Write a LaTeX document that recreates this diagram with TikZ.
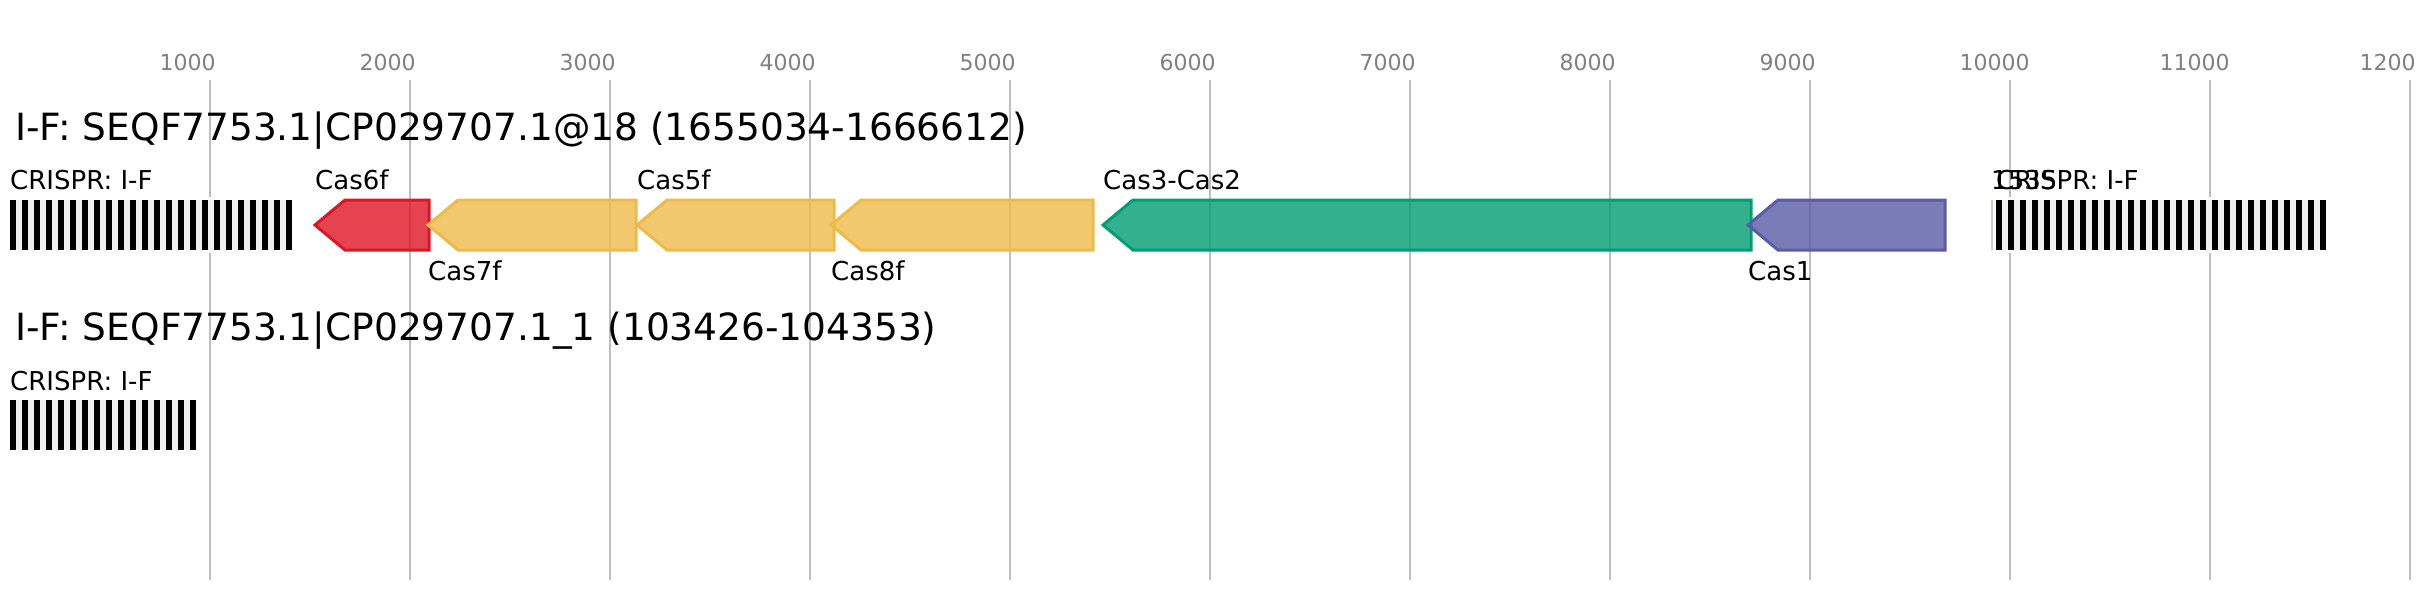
\documentclass[tikz,border=0pt]{standalone}
\usepackage{fontspec}
\setmainfont{DejaVu Sans}
\definecolor{gridc}{HTML}{BFBFBF}
\definecolor{tickc}{HTML}{808080}
\definecolor{cred}{HTML}{DE1524}
\definecolor{cyel}{HTML}{EEBB4A}
\definecolor{cgrn}{HTML}{009E73}
\definecolor{cblu}{HTML}{5A5CA6}
\definecolor{cunk}{HTML}{D4CCC4}
\definecolor{arrbg}{HTML}{EFEFEF}
\newcommand{\geneshape}[3]{% tip, right, colour
  \draw[gene, draw=#3, fill=#3] (#1,225) -- (#1+30,200) -- (#2,200) -- (#2,250) -- (#1+30,250) -- cycle;
}
\newcommand{\crarray}[3]{% x0, ytop, repeats
  \fill[white] (#1-3,#2-3) rectangle (#1+12*#3-3.4,#2+53);
  \fill[arrbg] (#1,#2) rectangle (#1+12*#3-6.4,#2+50);
  \foreach \i in {1,...,#3} {\fill[black] (#1+12*\i-12,#2) rectangle (#1+12*\i-6.4,#2+50);}
}
\begin{document}
\begin{tikzpicture}[x=1pt,y=-1pt,
  tick/.style={anchor=base west, inner sep=0pt, text=tickc, font=\fontsize{22}{26}\selectfont},
  titletext/.style={anchor=base west, inner sep=0pt, font=\fontsize{37.5}{44}\selectfont},
  lab/.style={anchor=base west, inner sep=0pt, font=\fontsize{26}{30}\selectfont},
  gene/.style={line width=3pt, fill opacity=0.8, line join=miter},
  gridline/.style={draw=gridc, line width=1.8pt}]
\useasboundingbox (0,0) rectangle (2416,600);
\fill[white] (0,0) rectangle (2416,600);
\foreach \k in {1,...,12} {
  \pgfmathsetmacro\gx{10+200*\k}
  \draw[gridline] (\gx,80) -- (\gx,580);
  \node[tick] (t\k) at (\gx-50.5,70) {\k000};
}
% row 1
\node[titletext] (title1) at (15,140) {I-F: SEQF7753.1|CP029707.1@18 (1655034-1666612)};
\crarray{10}{200}{24}
\geneshape{315}{429}{cred}
\geneshape{428}{636}{cyel}
\geneshape{637}{834}{cyel}
\geneshape{831}{1093}{cyel}
\geneshape{1103}{1751}{cgrn}
\geneshape{1748}{1945}{cblu}
\fill[cunk] (1991,200) rectangle (1994,250);
\crarray{1996}{200}{28}
\node[lab] (crl1) at (10,189) {CRISPR: I-F};
\node[lab] (l6) at (315,189) {Cas6f};
\node[lab] (l7) at (428,280) {Cas7f};
\node[lab] (l5) at (637,189) {Cas5f};
\node[lab] (l8) at (831,280) {Cas8f};
\node[lab] (l32) at (1103,189) {Cas3-Cas2};
\node[lab] (l1) at (1748,280) {Cas1};
\node[lab] (lu) at (1991,189) {1535};
\node[lab] (crl2) at (1996,189) {CRISPR: I-F};
% row 2
\node[titletext] (title2) at (15,340) {I-F: SEQF7753.1|CP029707.1\_1 (103426-104353)};
\crarray{10}{400}{16}
\node[lab] (crl3) at (10,390) {CRISPR: I-F};
\end{tikzpicture}
\end{document}
